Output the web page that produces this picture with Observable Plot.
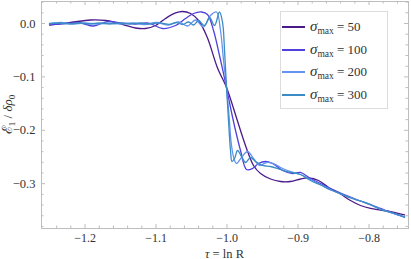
<!DOCTYPE html>
<html><head><meta charset="utf-8">
<script src="https://cdn.jsdelivr.net/npm/d3@7"></script>
<script src="https://cdn.jsdelivr.net/npm/@observablehq/plot@0.6"></script>
<style>
html,body{margin:0;padding:0;background:#fff;}
#chart{position:relative;width:411px;height:259px;overflow:hidden;font-family:"Liberation Serif","DejaVu Serif",serif;color:#333;}
#chart svg{position:absolute;left:0;top:0;}
#chart svg text{font-family:"Liberation Serif","DejaVu Serif",serif;}
#legend{position:absolute;left:280px;top:11px;width:108px;height:98px;background:#fff;border:1px solid #dcdcdc;box-sizing:border-box;}
.item{position:absolute;left:0;width:106px;height:20px;}
.swatch{position:absolute;left:1px;width:23px;height:0;border-top:2px solid;}
.lab{position:absolute;left:29px;white-space:nowrap;font-size:13px;line-height:13px;font-family:"Liberation Serif","DejaVu Serif",serif;}
.lab i{font-size:15px;}
.lab sub{font-size:9.5px;vertical-align:baseline;position:relative;top:3px;}
</style></head><body><div id="chart"></div><script>
const sigmas = [50, 100, 200, 300];
const colors = ["#4b1a8a", "#5040dc", "#6494ef", "#3b8cc6"];

const tau50 = [-1.25,-1.2204,-1.1923,-1.1711,-1.15,-1.1289,-1.1148,-1.1007,-1.0866,-1.0725,-1.0627,-1.0514,-1.0401,-1.0279,-1.0138,-1.0007,-0.9908,-0.981,-0.9725,-0.9627,-0.9528,-0.9387,-0.9246,-0.9106,-0.8965,-0.8852,-0.8711,-0.857,-0.8401,-0.8261,-0.812,-0.7979,-0.7838,-0.7697,-0.75];
const e50 = [-0.0028,0.0019,0.0066,0.0056,-0.0009,-0.0084,-0.0094,-0.0037,0.0094,0.0197,0.0225,0.0187,0.0056,-0.0257,-0.0818,-0.1199,-0.1592,-0.2004,-0.2341,-0.2659,-0.2809,-0.2912,-0.2959,-0.2959,-0.2912,-0.2893,-0.294,-0.3071,-0.3193,-0.3315,-0.3408,-0.3464,-0.3493,-0.3521,-0.3586];

const tau100 = [-1.25,-1.2275,-1.2063,-1.188,-1.1683,-1.15,-1.1289,-1.1106,-1.0908,-1.0725,-1.0585,-1.0472,-1.0359,-1.0275,-1.019,-1.0106,-1.0007,-0.9951,-0.988,-0.981,-0.9725,-0.9641,-0.9556,-0.9458,-0.9359,-0.9218,-0.9077,-0.8965,-0.8824,-0.8683,-0.8542,-0.8401,-0.8261,-0.812,-0.7979,-0.7838,-0.7697,-0.75];
const e100 = [-0.0019,0,0.0009,-0.0047,0.0037,0.0009,-0.0009,0.0009,-0.0094,-0.0037,0.0094,0.0187,0.0215,0.0169,-0.0131,-0.0599,-0.1199,-0.1573,-0.2004,-0.2378,-0.2734,-0.2715,-0.2622,-0.2584,-0.2622,-0.2753,-0.2809,-0.279,-0.2903,-0.2996,-0.309,-0.3174,-0.3249,-0.3324,-0.339,-0.3464,-0.3539,-0.3624];

const tau200 = [-1.25,-1.2345,-1.2176,-1.2007,-1.1838,-1.1669,-1.15,-1.1331,-1.1162,-1.0993,-1.0824,-1.0683,-1.0556,-1.0444,-1.0331,-1.0232,-1.0148,-1.0092,-1.0049,-1.0007,-0.9972,-0.9937,-0.9894,-0.9866,-0.9796,-0.9711,-0.9627,-0.9542,-0.9444,-0.9345,-0.9246,-0.9106,-0.8965,-0.8824,-0.8683,-0.8542,-0.8401,-0.8261,-0.812,-0.7979,-0.7838,-0.7697,-0.75];
const e200 = [-0.0009,0.0019,-0.0009,0.0009,-0.0009,0.0009,-0.0009,0.0009,-0.0019,0.0019,-0.0028,0.0028,-0.0047,0.0066,-0.0066,0.015,0.0215,-0.0131,-0.0693,-0.1199,-0.1723,-0.2285,-0.2566,-0.2622,-0.2509,-0.2397,-0.2528,-0.2659,-0.2603,-0.2622,-0.2697,-0.2772,-0.2828,-0.2921,-0.3015,-0.3109,-0.3193,-0.3258,-0.3324,-0.3399,-0.3474,-0.3539,-0.3624];

const tau300 = [-1.25,-1.2359,-1.2218,-1.2077,-1.1937,-1.1796,-1.1655,-1.1514,-1.1373,-1.1232,-1.1092,-1.0951,-1.081,-1.0711,-1.0627,-1.0542,-1.0472,-1.0401,-1.0317,-1.0246,-1.0176,-1.0106,-1.0063,-1.0035,-1.0007,-0.9979,-0.9951,-0.993,-0.9894,-0.9852,-0.9796,-0.9739,-0.9669,-0.9599,-0.95,-0.9387,-0.9246,-0.9106,-0.8965,-0.8824,-0.8683,-0.8542,-0.8401,-0.8261,-0.812,-0.7979,-0.7838,-0.7697,-0.75];
const e300 = [0,0.0009,-0.0009,0.0009,-0.0009,0.0009,-0.0009,0.0009,-0.0009,0.0009,-0.0009,0.0013,-0.0015,0.0019,-0.0019,0.0028,-0.0028,0.0056,-0.0037,0.0112,-0.0037,0.0215,0.0019,-0.0506,-0.1199,-0.1816,-0.2378,-0.2584,-0.2528,-0.2378,-0.2491,-0.2603,-0.2509,-0.2584,-0.2659,-0.2678,-0.2734,-0.279,-0.2828,-0.294,-0.3024,-0.3118,-0.3184,-0.3268,-0.3324,-0.339,-0.3483,-0.3539,-0.3624];

const xMajor = [-1.2, -1.1, -1.0, -0.9, -0.8];
const xMinor = [-1.24,-1.22,-1.18,-1.16,-1.14,-1.12,-1.08,-1.06,-1.04,-1.02,-0.98,-0.96,-0.94,-0.92,-0.88,-0.86,-0.84,-0.82,-0.78,-0.76];
const yMajor = [-0.3, -0.2, -0.1, 0.0];
const yMinor = [-0.38,-0.36,-0.34,-0.32,-0.28,-0.26,-0.24,-0.22,-0.18,-0.16,-0.14,-0.12,-0.08,-0.06,-0.04,-0.02,0.02,0.04];
const xDomain = [-1.2613, -0.7444];
const yDomain = [-0.3839, 0.0412];

const series = [[tau50, e50], [tau100, e100], [tau200, e200], [tau300, e300]];
const rows = series.flatMap(([t, e], i) => t.map((tau, j) => ({sigma: sigmas[i], tau, e: e[j]})));

const W = 411, H = 259, mL = 41, mR = 3, mT = 1, mB = 31;
const fw = W - mL - mR, fh = H - mT - mB;
const frameColor = "#bdbdbd";
const fmt = d3.format(".1f");
const serif = "'Liberation Serif', 'DejaVu Serif', serif";

const plot = Plot.plot({
  width: W, height: H,
  marginLeft: mL, marginRight: mR, marginTop: mT, marginBottom: mB,
  style: {fontFamily: serif, fontSize: "12px", color: "#333", background: "transparent"},
  x: {domain: xDomain},
  y: {domain: yDomain},
  color: {domain: sigmas, range: colors},
  marks: [
    Plot.frame({stroke: frameColor, strokeWidth: 1}),
    Plot.tickX(xMajor, {x: d => d, insetTop: fh - 4, stroke: frameColor}),
    Plot.tickX(xMinor, {x: d => d, insetTop: fh - 2.5, stroke: frameColor}),
    Plot.tickX(xMajor, {x: d => d, insetBottom: fh - 4, stroke: frameColor}),
    Plot.tickX(xMinor, {x: d => d, insetBottom: fh - 2.5, stroke: frameColor}),
    Plot.tickY(yMajor, {y: d => d, insetRight: fw - 4, stroke: frameColor}),
    Plot.tickY(yMinor, {y: d => d, insetRight: fw - 2.5, stroke: frameColor}),
    Plot.tickY(yMajor, {y: d => d, insetLeft: fw - 4, stroke: frameColor}),
    Plot.tickY(yMinor, {y: d => d, insetLeft: fw - 2.5, stroke: frameColor}),
    Plot.axisX({ticks: xMajor, tickSize: 0, tickPadding: 5, tickFormat: fmt, label: null, fontSize: 12, fontFamily: serif}),
    Plot.axisY({ticks: yMajor, tickSize: 0, tickPadding: 6, tickFormat: fmt, label: null, fontSize: 12.5, fontFamily: serif}),
    Plot.line(rows, {x: "tau", y: "e", z: "sigma", stroke: "sigma", curve: "catmull-rom", strokeWidth: 1.3})
  ]
});

const chart = document.getElementById("chart");
chart.appendChild(plot);
const svg = d3.select(plot);

// x label
const xl = svg.append("text").attr("x", mL + fw / 2).attr("y", 257.5).attr("text-anchor", "middle")
  .attr("font-size", 12.5).attr("fill", "#333");
xl.append("tspan").attr("font-style", "italic").text("τ");
xl.append("tspan").text(" = ln R");

// y label
const yl = svg.append("text").attr("transform", `translate(12,${mT + fh / 2}) rotate(-90)`)
  .attr("text-anchor", "middle").attr("font-size", 13).attr("fill", "#333");
yl.append("tspan").attr("font-size", 14).text("ℰ");
yl.append("tspan").attr("font-size", 9).attr("dy", 3).text("1");
yl.append("tspan").attr("dy", -3).text(" / ");
yl.append("tspan").attr("font-style", "italic").text("δρ");
yl.append("tspan").attr("font-size", 9).attr("dy", 3).text("0");

// legend
const legend = d3.select(chart).append("div").attr("id", "legend");
sigmas.forEach((s, i) => {
  const item = legend.append("div").attr("class", "item").style("top", (4 + i * 22.7) + "px");
  item.append("div").attr("class", "swatch").style("top", "10px").style("border-top-color", colors[i]);
  const lab = item.append("div").attr("class", "lab").style("top", "4px");
  lab.html(`<i>σ</i><sub>max</sub> = ${s}`);
});
</script></body></html>
